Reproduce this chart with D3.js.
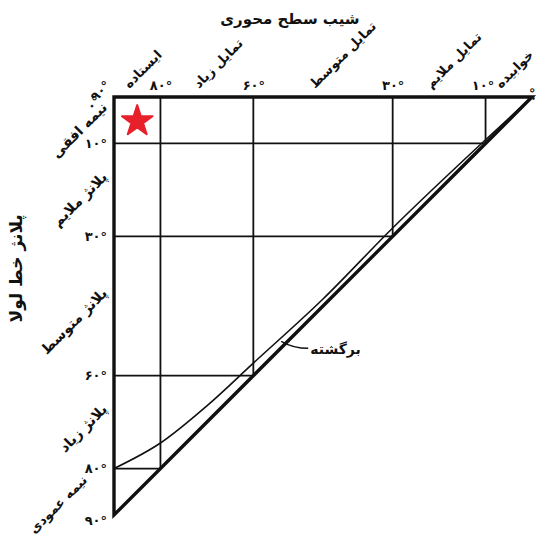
<!DOCTYPE html>
<html>
<head>
<meta charset="utf-8">
<script src="https://cdn.jsdelivr.net/npm/d3@7"></script>
<style>
  body { margin: 0; background: #fff; }
  svg text { font-family: 'DejaVu Sans', sans-serif; fill: #111; }
</style>
</head>
<body>
<div id="chart"></div>
<script>

// dip of axial surface (top) and plunge of hinge line (left), degrees
var dipTicks = [90, 80, 60, 30, 10, 0]
var plungeTicks = [0, 10, 30, 60, 80, 90]

var dipClasses = [
  {name: 'ایستاده', from: 90, to: 80},
  {name: 'تمایل زیاد', from: 80, to: 60},
  {name: 'تمایل متوسط', from: 60, to: 30},
  {name: 'تمایل ملایم', from: 30, to: 10},
  {name: 'خوابیده', from: 10, to: 0}
]

var plungeClasses = [
  {name: 'نیمه افقی', from: 0, to: 10},
  {name: 'پلانژ ملایم', from: 10, to: 30},
  {name: 'پلانژ متوسط', from: 30, to: 60},
  {name: 'پلانژ زیاد', from: 60, to: 80},
  {name: 'نیمه عمودی', from: 80, to: 90}
]

// boundary of the reclined (overturned) field: [dip, plunge]
var reclinedCurve = [[90, 80], [80, 74.5], [70, 66.5], [60, 57.3], [45, 43.5], [30, 28.2], [10, 9.2], [0, 0]]

var starPoint = {dip: 85, plunge: 5}

var dipTitle = 'شیب سطح محوری'
var plungeTitle = 'پلانژ خط لولا'
var reclinedLabel = 'برگشته'


var fa = d => String(d).replace(/\d/g, c => '۰۱۲۳۴۵۶۷۸۹'[c]) + '°'

var width = 546, height = 541
var margin = {left: 114, top: 97}
var size = 418

var svg = d3.select('#chart').append('svg')
  .attr('width', width)
  .attr('height', height)

var g = svg.append('g').attr('transform', `translate(${margin.left},${margin.top})`)

var x = d3.scaleLinear().domain([90, 0]).range([0, size])
var y = d3.scaleLinear().domain([0, 90]).range([0, size])

// grid: a fold cannot plunge more than its axial surface dips, so lines stop at the diagonal
g.selectAll('line.v').data(dipTicks.filter(d => d > 0 && d < 90)).join('line')
  .attr('x1', d => x(d)).attr('x2', d => x(d))
  .attr('y1', 0).attr('y2', d => y(d))
  .attr('stroke', '#111').attr('stroke-width', 1.8)

g.selectAll('line.h').data(plungeTicks.filter(d => d > 0 && d < 90)).join('line')
  .attr('x1', 0).attr('x2', d => x(d))
  .attr('y1', d => y(d)).attr('y2', d => y(d))
  .attr('stroke', '#111').attr('stroke-width', 1.8)

g.append('path')
  .datum(reclinedCurve)
  .attr('d', d3.line().x(d => x(d[0])).y(d => y(d[1])).curve(d3.curveMonotoneX))
  .attr('fill', 'none').attr('stroke', '#111').attr('stroke-width', 1.6)

// triangle outline
g.append('path')
  .datum([[90, 0], [0, 0], [90, 90]])
  .attr('d', d3.line().x(d => x(d[0])).y(d => y(d[1])).curve(d3.curveLinearClosed))
  .attr('fill', 'none').attr('stroke', '#111').attr('stroke-width', 3.4)
  .attr('stroke-linejoin', 'miter')

// star
g.append('path')
  .attr('d', d3.symbol(d3.symbolStar, 290)())
  .attr('transform', `translate(${x(starPoint.dip)},${y(starPoint.plunge) + 1})`)
  .attr('fill', '#e8202a')
  .attr('stroke', '#e8202a').attr('stroke-width', 2).attr('stroke-linejoin', 'round')

// axes (labels only)
var topAxis = g.append('g')
  .call(d3.axisTop(x).tickValues(dipTicks).tickSize(0).tickPadding(7).tickFormat(fa))
topAxis.select('.domain').remove()
topAxis.selectAll('text').attr('font-size', 13).attr('font-weight', 'bold').attr('font-family', null)
topAxis.selectAll('.tick').filter(d => d == 90 || d == 0).select('text')
  .attr('transform', d => d == 90 ? 'translate(-6,2) rotate(-45)' : 'translate(12,2) rotate(-70)')
topAxis.selectAll('.tick').filter(d => d == 10).select('text')
  .attr('dx', -3)

var leftAxis = g.append('g')
  .call(d3.axisLeft(y).tickValues(plungeTicks).tickSize(0).tickPadding(7).tickFormat(fa))
leftAxis.select('.domain').remove()
leftAxis.selectAll('text').attr('font-size', 13).attr('font-weight', 'bold').attr('font-family', null)
leftAxis.selectAll('.tick').filter(d => d == 0).select('text')
  .attr('transform', 'translate(-10,-4) rotate(-45)')
leftAxis.selectAll('.tick').filter(d => d == 90).select('text')
  .attr('dy', '0.7em')

// class names, slanted
g.selectAll('text.dipclass').data(dipClasses).join('text')
  .attr('class', 'dipclass')
  .attr('transform', d => `translate(${x((d.from + d.to) / 2) - 8},-8) rotate(-45)`)
  .attr('text-anchor', 'start')
  .attr('font-size', 13).attr('font-weight', 'bold')
  .text(d => d.name)

g.selectAll('text.plclass').data(plungeClasses).join('text')
  .attr('class', 'plclass')
  .attr('transform', (d, i) => {
    var last = i == plungeClasses.length - 1
    var dx = last ? -26 : -6
    var dy = last ? -11 : -12
    return `translate(${dx},${y((d.from + d.to) / 2) + dy}) rotate(-45)`
  })
  .attr('text-anchor', 'end')
  .attr('font-size', (d, i) => i == plungeClasses.length - 1 ? 13 : 14)
  .attr('font-weight', 'bold')
  .text(d => d.name)

// titles
svg.append('text')
  .attr('x', 290).attr('y', 24)
  .attr('text-anchor', 'middle').attr('font-size', 15).attr('font-weight', 'bold')
  .text(dipTitle)

svg.append('text')
  .attr('transform', `translate(22,${margin.top + size * 0.41}) rotate(-90)`)
  .attr('text-anchor', 'middle').attr('font-size', 17).attr('font-weight', 'bold')
  .text(plungeTitle)

// reclined label with leader
var lp = {dip: 54, plunge: 52.6}
var lx = x(lp.dip), ly = y(lp.plunge)
g.append('path')
  .attr('d', `M${lx},${ly} Q${lx + 12},${ly + 7} ${lx + 27},${ly + 7}`)
  .attr('fill', 'none').attr('stroke', '#111').attr('stroke-width', 1.4)
g.append('text')
  .attr('x', lx + 29).attr('y', ly + 13)
  .attr('text-anchor', 'start').attr('font-size', 14).attr('font-weight', 'bold')
  .text(reclinedLabel)

</script>
</body>
</html>
